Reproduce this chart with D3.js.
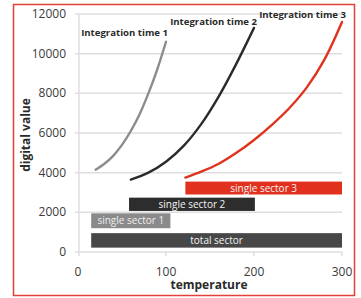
<!DOCTYPE html>
<html>
<head>
<meta charset="utf-8">
<script src="https://cdn.jsdelivr.net/npm/d3@7"></script>
<style>
  body { margin: 0; background: #fff; }
  svg { display: block; font-family: "Open Sans", sans-serif; }
</style>
</head>
<body>
<svg id="chart" width="361" height="298"></svg>
<script>
// curve readings: [temperature, digital value]
const time1 = [[20, 4150], [30, 4450], [40, 4850], [50, 5400], [60, 6100], [70, 6950], [80, 8000], [90, 9200], [100, 10600]];
const time2 = [[60, 3650], [80, 4000], [100, 4550], [120, 5350], [140, 6450], [160, 7850], [180, 9500], [200, 11300]];
const time3 = [[122, 3750], [140, 4050], [160, 4450], [180, 5000], [200, 5650], [220, 6400], [240, 7250], [260, 8300], [280, 9700], [300, 11600]];
const curveNames = ["Integration time 1", "Integration time 2", "Integration time 3"];

// sector bars: name, temperature from/to, value from/to
const barNames = ["total sector", "single sector 1", "single sector 2", "single sector 3"];
const barT0 = [15, 15, 58, 122];
const barT1 = [300, 105, 201, 300];
const barV0 = [220, 1200, 2070, 2900];
const barV1 = [950, 1950, 2740, 3550];

const xTicks = [0, 100, 200, 300];
const yTicks = [0, 2000, 4000, 6000, 8000, 10000, 12000];

const svg = d3.select("#chart");

// red frame
svg.append("rect")
    .attr("x", 13.5).attr("y", 4.5)
    .attr("width", 341).attr("height", 291)
    .attr("fill", "none")
    .attr("stroke", "#e4403a")
    .attr("stroke-width", 1.5);

const x = d3.scaleLinear().domain([0, 300]).range([78, 342]);
const y = d3.scaleLinear().domain([0, 12000]).range([252, 14]);

// gridlines
svg.append("g")
    .selectAll("line")
    .data(yTicks)
    .join("line")
    .attr("x1", 75).attr("x2", 342)
    .attr("y1", d => y(d)).attr("y2", d => y(d))
    .attr("stroke", "#dedede")
    .attr("stroke-width", 1.5);

// vertical axis line
svg.append("line")
    .attr("x1", 79).attr("x2", 79)
    .attr("y1", y(12000)).attr("y2", 256)
    .attr("stroke", "#dedede")
    .attr("stroke-width", 1.5);

// x ticks
svg.append("g")
    .selectAll("line")
    .data(xTicks.slice(1))
    .join("line")
    .attr("x1", d => x(d)).attr("x2", d => x(d))
    .attr("y1", 252).attr("y2", 256)
    .attr("stroke", "#d6d6d6")
    .attr("stroke-width", 1.2);

// tick labels
svg.append("g")
    .selectAll("text")
    .data(yTicks)
    .join("text")
    .attr("x", 66)
    .attr("y", d => y(d) + 4)
    .attr("text-anchor", "end")
    .attr("font-size", 12)
    .attr("fill", "#3a3a3a")
    .text(d => d);

svg.append("g")
    .selectAll("text")
    .data(xTicks)
    .join("text")
    .attr("x", d => x(d))
    .attr("y", 276)
    .attr("text-anchor", "middle")
    .attr("font-size", 12)
    .attr("fill", "#3a3a3a")
    .text(d => d);

// axis titles
svg.append("text")
    .attr("x", 209).attr("y", 289)
    .attr("text-anchor", "middle")
    .attr("font-size", 12)
    .attr("font-weight", "bold")
    .attr("fill", "#2a2a2a")
    .text("temperature");

svg.append("text")
    .attr("transform", "translate(30,135) rotate(-90)")
    .attr("text-anchor", "middle")
    .attr("font-size", 12)
    .attr("font-weight", "bold")
    .attr("fill", "#2a2a2a")
    .text("digital value");

// bars
const barColors = ["#474747", "#8a8a8a", "#2d2d2d", "#e2301f"];
const bars = svg.append("g")
    .selectAll("g")
    .data(barNames)
    .join("g");

bars.append("rect")
    .attr("x", (d, i) => x(barT0[i]))
    .attr("y", (d, i) => y(barV1[i]))
    .attr("width", (d, i) => x(barT1[i]) - x(barT0[i]))
    .attr("height", (d, i) => y(barV0[i]) - y(barV1[i]))
    .attr("fill", (d, i) => barColors[i]);

bars.append("text")
    .attr("x", (d, i) => (x(barT0[i]) + x(barT1[i])) / 2)
    .attr("y", (d, i) => (y(barV0[i]) + y(barV1[i])) / 2 + 3.5)
    .attr("text-anchor", "middle")
    .attr("font-size", 10)
    .attr("fill", (d, i) => i === 1 ? "#eeeeee" : "#f4f4f4")
    .text(d => d);

// curves
const line = d3.line()
    .x(d => x(d[0]))
    .y(d => y(d[1]))
    .curve(d3.curveCatmullRom);

const curves = [time1, time2, time3];
const curveColors = ["#8c8c8c", "#2b2b2b", "#e0331f"];

svg.append("g")
    .selectAll("path")
    .data(curves)
    .join("path")
    .attr("d", line)
    .attr("fill", "none")
    .attr("stroke", (d, i) => curveColors[i])
    .attr("stroke-width", 2.4)
    .attr("stroke-linecap", "round");

// curve labels at the top end of each curve
const labelDx = [2, 3, 4];
const labelDy = [-6, -3, -4];
svg.append("g")
    .selectAll("text")
    .data(curves)
    .join("text")
    .attr("x", (d, i) => x(d[d.length - 1][0]) + labelDx[i])
    .attr("y", (d, i) => y(d[d.length - 1][1]) + labelDy[i])
    .attr("text-anchor", "end")
    .attr("font-size", 9.6)
    .attr("font-weight", "bold")
    .attr("fill", "#2a2a2a")
    .text((d, i) => curveNames[i]);
</script>
</body>
</html>
